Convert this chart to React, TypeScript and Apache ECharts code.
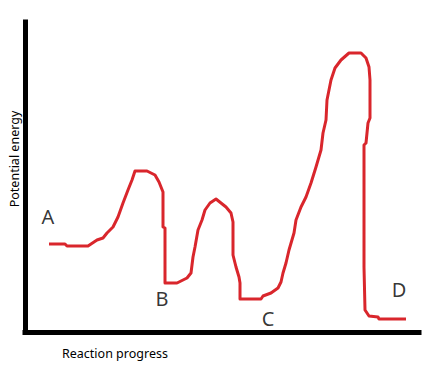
import React, { useEffect, useRef } from "react";
import * as echarts from "echarts";

// Reaction coordinate (x) and potential energy (y)
const curveX = [24, 40, 42, 63, 72, 78, 82, 88, 93, 98, 103, 107, 110, 122, 130, 134, 138, 138, 140, 140, 152, 162, 166, 168, 170, 173, 177, 180, 185, 191, 201, 206, 208, 208, 211, 214, 215, 215, 236, 238, 246, 253, 256, 258, 261, 264, 269, 271, 276, 281, 286, 291, 296, 298, 301, 302, 304, 306, 310, 316, 324, 336, 341, 344, 345, 345, 343, 341, 339, 339, 340, 344, 353, 354, 381];
const curveY = [88, 88, 86, 86, 92, 94, 99, 105, 115, 129, 142, 152, 161, 161, 157, 150, 140, 105, 104, 49, 49, 54, 59, 75, 85, 102, 112, 122, 129, 133, 125, 119, 110, 77, 65, 55, 49, 33, 33, 36, 39, 44, 50, 59, 69, 82, 99, 112, 125, 135, 149, 165, 182, 199, 212, 232, 242, 252, 264, 272, 279, 279, 274, 265, 252, 214, 209, 189, 187, 65, 22, 16, 15, 13, 13];

const labelNames = ["A", "B", "C", "D"];
const labelX = [23, 137, 243, 374];
const labelY = [116, 34, 14, 43];

const yTitle = "Potential energy";
const xTitle = "Reaction progress";

export default function App() {
  const ref = useRef<HTMLDivElement>(null);
  useEffect(() => {
    if (!ref.current) return;
    const chart = echarts.init(ref.current, null, { renderer: "svg" });
    const font = "'Noto Sans', 'Open Sans', sans-serif";
    chart.setOption({
      animation: false,
      backgroundColor: "#ffffff",
      grid: { left: 25, right: 13, top: 22, bottom: 57, containLabel: false },
      xAxis: {
        type: "value",
        min: 0,
        max: 394,
        axisLine: { show: true, onZero: false, lineStyle: { color: "#000", width: 5, cap: "square" } },
        axisTick: { show: false },
        axisLabel: { show: false },
        splitLine: { show: false },
      },
      yAxis: {
        type: "value",
        min: 0,
        max: 310,
        axisLine: { show: true, onZero: false, lineStyle: { color: "#000", width: 5, cap: "square" } },
        axisTick: { show: false },
        axisLabel: { show: false },
        splitLine: { show: false },
      },
      series: [
        {
          type: "line",
          data: curveX.map((x, i) => [x, curveY[i]]),
          showSymbol: false,
          symbol: "none",
          lineStyle: { color: "#d9262c", width: 3, join: "round" },
          z: 3,
        },
        {
          type: "scatter",
          symbolSize: 0,
          data: labelNames.map((n, i) => ({ name: n, value: [labelX[i], labelY[i]] })),
          label: {
            show: true,
            position: "inside",
            formatter: "{b}",
            color: "#000",
            fontSize: 20,
            fontFamily: font,
          },
          z: 4,
        },
      ],
      graphic: [
        {
          type: "text",
          x: 14,
          y: 159,
          rotation: Math.PI / 2,
          style: {
            text: yTitle,
            fontSize: 12.5,
            fontFamily: font,
            fill: "#000",
            align: "center",
            verticalAlign: "middle",
          },
        },
        {
          type: "text",
          x: 62,
          y: 353,
          style: {
            text: xTitle,
            fontSize: 12.5,
            fontFamily: font,
            fill: "#000",
            align: "left",
            verticalAlign: "middle",
          },
        },
      ],
    });
    return () => chart.dispose();
  }, []);
  return <div ref={ref} style={{ width: 432, height: 389, margin: -8 }} />;
}
